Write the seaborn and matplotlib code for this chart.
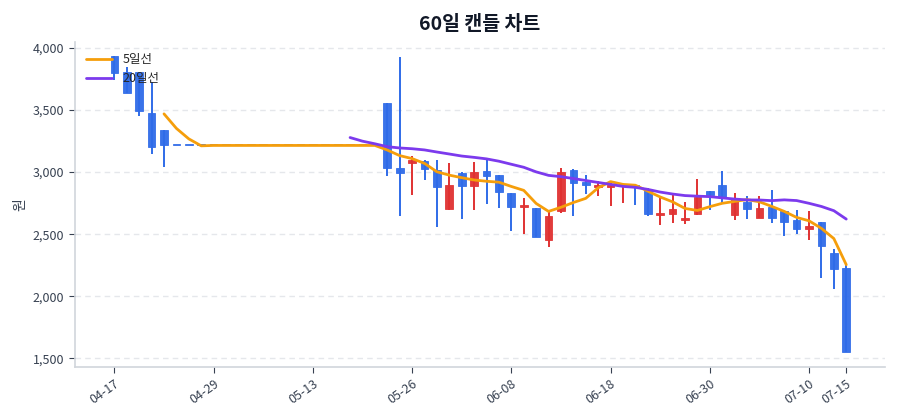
import pandas as pd
import numpy as np
import matplotlib.pyplot as plt
import matplotlib.ticker as mticker
import seaborn as sns

# daily OHLC, 60 trading days (flat 3,215 stretch = trading halt)
halt = [3215] * 17
opens = [3935, 3810, 3810, 3473, 3339] + halt + [
    3560, 3035, 3075, 3090, 3015, 2700, 2997, 2890, 3010, 2976,
    2833, 2720, 2710, 2450, 2690, 3015, 2918, 2877, 2882, 2890,
    2893, 2868, 2657, 2664, 2615, 2661, 2852, 2898, 2653, 2761,
    2627, 2720, 2685, 2613, 2540, 2600, 2352, 2226]
highs = [3935, 3847, 3810, 3728, 3339] + halt + [
    3560, 3930, 3130, 3095, 3097, 3070, 3000, 3083, 3100, 2976,
    2833, 2790, 2710, 2680, 3030, 3025, 2976, 2927, 2922, 2895,
    2893, 2870, 2788, 2820, 2760, 2941, 2852, 3010, 2833, 2806,
    2806, 2860, 2685, 2693, 2685, 2600, 2381, 2268]
lows = [3742, 3637, 3454, 3150, 3043] + halt + [
    2968, 2650, 2815, 2935, 2560, 2695, 2620, 2693, 2740, 2715,
    2525, 2500, 2476, 2400, 2672, 2650, 2822, 2806, 2726, 2748,
    2735, 2650, 2572, 2590, 2580, 2653, 2693, 2742, 2613, 2620,
    2627, 2591, 2484, 2505, 2452, 2150, 2062, 1548]
closes = [3800, 3637, 3495, 3199, 3215] + halt + [
    3030, 2990, 3095, 3022, 2877, 2895, 2887, 3003, 2970, 2840,
    2723, 2730, 2476, 2650, 3005, 2915, 2898, 2900, 2900, 2893,
    2882, 2660, 2665, 2704, 2627, 2801, 2812, 2801, 2780, 2700,
    2712, 2627, 2600, 2538, 2563, 2406, 2218, 1548]

dates = pd.bdate_range('2026-04-17', '2026-07-15', freq='C',
                       holidays=['2026-05-01', '2026-05-05', '2026-05-25', '2026-06-03'])

df = pd.DataFrame({'date': dates, 'open': opens, 'high': highs, 'low': lows, 'close': closes})
df['idx'] = np.arange(len(df))
df['ma5'] = df['close'].rolling(5).mean()
df['ma20'] = df['close'].rolling(20).mean()

sns.set_theme(style='white')
plt.rcParams['font.family'] = ['Noto Sans CJK KR', 'DejaVu Sans']

red = '#E03131'
blue = '#2F6BE8'

fig = plt.figure(figsize=(9, 4.2), dpi=100)
ax = fig.add_axes([0.083, 0.126, 0.9, 0.774])

up = df['close'] > df['open']
colors = np.where(up, red, blue)
ax.vlines(df['idx'], df['low'], df['high'], colors=colors, linewidth=1.4, zorder=2)
body_bottom = np.minimum(df['open'], df['close'])
body_height = np.maximum((df['close'] - df['open']).abs(), 14)
ax.bar(df['idx'], body_height, bottom=body_bottom, width=0.62,
       color=colors, edgecolor=colors, linewidth=0.6, alpha=0.95, zorder=2)

sns.lineplot(data=df, x='idx', y='ma5', color='#F59E0B', linewidth=2, label='5일선', ax=ax, zorder=3)
sns.lineplot(data=df, x='idx', y='ma20', color='#7C3AED', linewidth=2, label='20일선', ax=ax, zorder=3)

tick_idx = list(range(0, len(df), 8)) + [len(df) - 1]
ax.set_xticks(tick_idx)
ax.set_xticklabels([df['date'][i].strftime('%m-%d') for i in tick_idx], rotation=35, ha='right',
                   rotation_mode='anchor', fontsize=9, color='#374151')
ax.set_xlim(-3.2, 62.1)
ax.set_ylim(1430, 4048)
ax.set_yticks([1500, 2000, 2500, 3000, 3500, 4000])
ax.yaxis.set_major_formatter(mticker.FuncFormatter(lambda v, p: f'{v:,.0f}'))
ax.tick_params(axis='y', labelsize=9, labelcolor='#374151')
ax.tick_params(axis='both', length=4, color='#374151', width=0.8, direction='out', left=True, bottom=True)

ax.grid(axis='y', linestyle=(0, (4, 3)), color='#E5E7EB', linewidth=1)
ax.set_axisbelow(True)
sns.despine(ax=ax)
for s in ['left', 'bottom']:
    ax.spines[s].set_color('#D1D5DB')
    ax.spines[s].set_linewidth(1.2)

ax.set_xlabel('')
ax.set_ylabel('원', fontsize=10, color='#374151', labelpad=4)
ax.set_title('60일 캔들 차트', fontsize=14, fontweight='bold', color='#111827', pad=9)
ax.legend(loc='upper left', frameon=False, fontsize=9, handlelength=2.1,
          borderaxespad=0.5, labelspacing=0.45)

plt.savefig('out.png', dpi=100)
